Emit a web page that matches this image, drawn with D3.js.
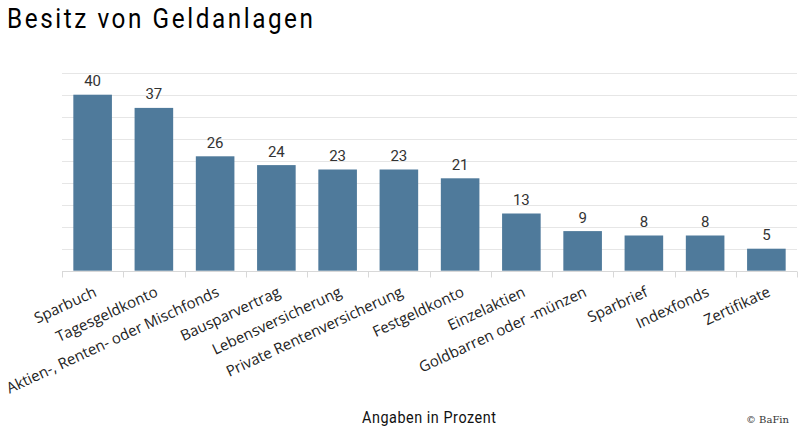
<!DOCTYPE HTML>
<html lang="de">
<head>
<meta charset="utf-8">
<title>Besitz von Geldanlagen</title>
<style>
html, body {
    margin: 0;
    background: #fff;
 }
svg text { fill: #000; }
.grid line { stroke: #e6e6e6; stroke-width: 1; }
.xaxis line, .xaxis path { stroke: #d8d8d8; }
.xaxis text { font: 15px "Open Sans", sans-serif; fill: #222; }
.value { font: 15px Roboto, sans-serif; fill: #333; }
</style>
</head>
<body>
<svg id="chart" width="800" height="431"></svg>

<script src="https://cdnjs.cloudflare.com/ajax/libs/d3/7.8.5/d3.min.js"></script>
<script>
(function() {
  'use strict';

// Data
const categories = ['Sparbuch', 'Tagesgeldkonto', 'Aktien-, Renten- oder Mischfonds', 'Bausparvertrag',
  'Lebensversicherung', 'Private Rentenversicherung', 'Festgeldkonto', 'Einzelaktien',
  'Goldbarren oder -münzen', 'Sparbrief', 'Indexfonds', 'Zertifikate'];
const values = [40, 37, 26, 24, 23, 23, 21, 13, 9, 8, 8, 5];
const gridTicks = [0, 5, 10, 15, 20, 25, 30, 35, 40, 45];

const left = 62, right = 797, top = 72.7, bottom = 270.7;

const svg = d3.select('#chart');

const x = d3.scaleBand()
  .domain(categories)
  .range([left, right]);

const y = d3.scaleLinear()
  .domain([0, 45])
  .range([bottom, top]);

// Gridlines
svg.append('g')
  .attr('class', 'grid')
  .selectAll('line')
  .data(gridTicks.slice(1))
  .enter()
  .append('line')
  .attr('x1', left)
  .attr('x2', right)
  .attr('y1', d => Math.round(y(d)) + 0.5)
  .attr('y2', d => Math.round(y(d)) + 0.5);

// Bars
const barW = x.bandwidth() * 0.63;
svg.append('g')
  .selectAll('rect')
  .data(values)
  .enter()
  .append('rect')
  .attr('x', (d, i) => x(categories[i]) + (x.bandwidth() - barW) / 2)
  .attr('width', barW)
  .attr('y', d => y(d))
  .attr('height', d => y(0) - y(d))
  .attr('fill', '#4f7a9b');

// Value labels
svg.append('g')
  .selectAll('text')
  .data(values)
  .enter()
  .append('text')
  .attr('class', 'value')
  .attr('x', (d, i) => x(categories[i]) + x.bandwidth() / 2)
  .attr('y', d => y(d) - 8.5)
  .attr('text-anchor', 'middle')
  .text(d => d);

// X axis with ticks at the band boundaries
const xAxis = svg.append('g')
  .attr('class', 'xaxis')
  .attr('transform', 'translate(0,' + (Math.round(bottom) + 0.5) + ')');

xAxis.append('line')
  .attr('x1', left)
  .attr('x2', right);

xAxis.selectAll('line.tick')
  .data(categories.map(c => x(c)).concat([right]))
  .enter()
  .append('line')
  .attr('class', 'tick')
  .attr('x1', d => Math.round(d) + 0.5)
  .attr('x2', d => Math.round(d) + 0.5)
  .attr('y1', 0)
  .attr('y2', 6);

xAxis.selectAll('text')
  .data(categories)
  .enter()
  .append('text')
  .attr('text-anchor', 'end')
  .attr('transform', d => 'translate(' + (x(d) + x.bandwidth() / 2 + 5) + ',24) rotate(-25)')
  .text(d => d);

// Title, axis title, credit (condensed look: narrowed glyphs, slightly spaced)
const sx = 0.9;
svg.append('g')
  .attr('transform', 'scale(' + sx + ',1)')
  .append('text')
  .attr('x', 7 / sx)
  .attr('y', 28)
  .attr('textLength', 306 / sx)
  .attr('lengthAdjust', 'spacing')
  .style('font', '27px Roboto, sans-serif')
  .text('Besitz von Geldanlagen');

svg.append('g')
  .attr('transform', 'scale(' + sx + ',1)')
  .append('text')
  .attr('x', 362 / sx)
  .attr('y', 423.3)
  .attr('textLength', 134 / sx)
  .attr('lengthAdjust', 'spacing')
  .style('font', '16px Roboto, sans-serif')
  .style('fill', '#111')
  .text('Angaben in Prozent');

svg.append('text')
  .attr('x', 789)
  .attr('y', 422.7)
  .attr('text-anchor', 'end')
  .style('font', '10px "DejaVu Serif", "Liberation Serif", serif')
  .style('fill', '#333')
  .text('© BaFin');

}());
</script>
</body>
</html>
